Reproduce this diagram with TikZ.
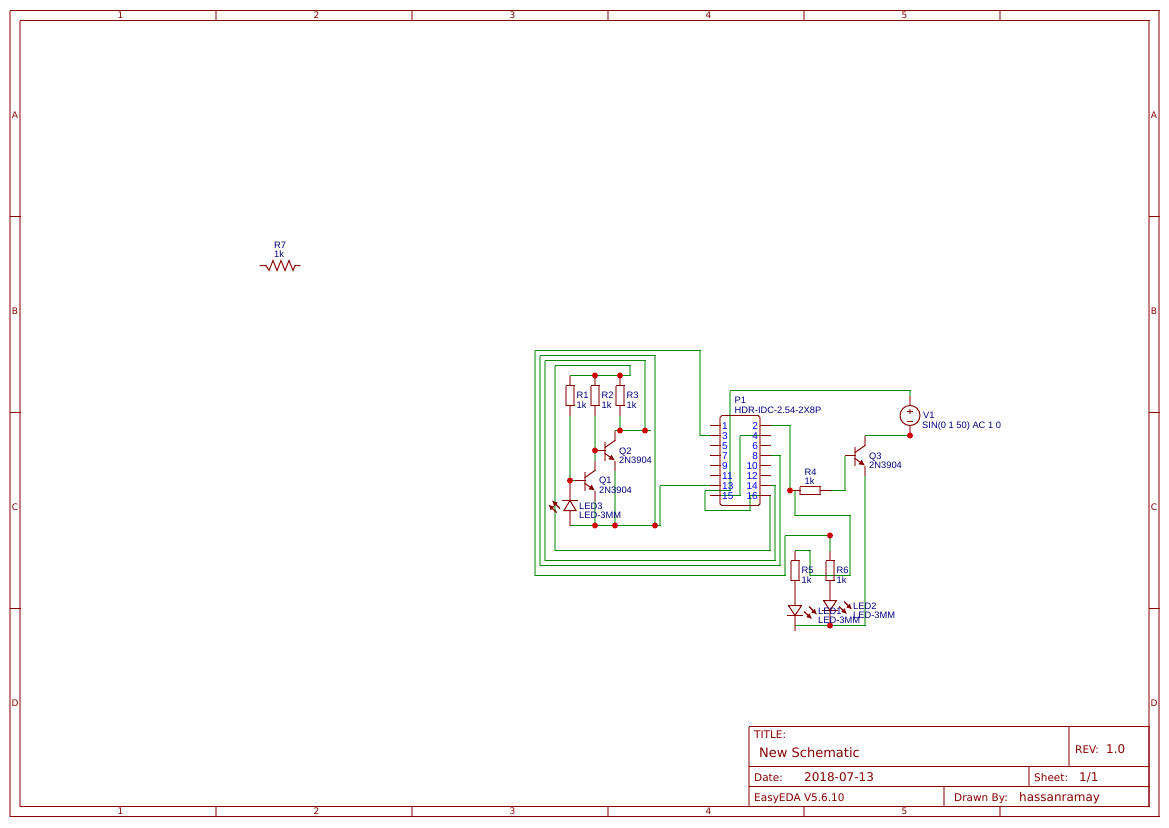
\documentclass[tikz,border=0pt]{standalone}
\usepackage{fontspec}
\setmainfont{DejaVu Sans}
\newfontfamily\lblfont{Liberation Sans}
\usetikzlibrary{arrows.meta,calc}
\definecolor{frm}{HTML}{880000}
\definecolor{wirec}{HTML}{008800}
\definecolor{dotc}{HTML}{CC0000}
\definecolor{lblc}{HTML}{000080}
\definecolor{pinc}{HTML}{0000FF}
\newcommand{\fs}[1]{\fontsize{#1pt}{#1pt}\selectfont}
% draws a polyline, giving vertical runs the soft two-pixel look of the reference
\newcommand{\segs}[2]{%
  \edef\seglist{#2}%
  \foreach \cur [remember=\cur as \prev (initially x), count=\segi] in \seglist {%
    \ifnum\segi>1
      \path let \p1=\prev,\p2=\cur,\n1={abs(\x1-\x2)} in \pgfextra{\xdef\segdx{\n1}};
      \ifdim\segdx<0.01pt
        \draw[#1,vseg] \prev -- \cur;
      \else
        \draw[#1] \prev -- \cur;
      \fi
    \fi
  }%
}
\tikzset{
  frameline/.style={draw=frm,line width=1pt,line cap=rect},
  wire/.style={draw=wirec,line width=1pt,line cap=rect},
  part/.style={draw=frm,line width=1pt,line cap=rect},
  diag/.style={draw=frm,line width=1pt,line cap=round},
  photon/.style={draw=frm,line width=1.2pt,-{Latex[length=5.5pt,width=5.5pt]}},
  vseg/.style={line width=2pt,opacity=0.5,line cap=butt},
  junction/.style={circle,fill=dotc,draw=none,minimum size=6pt,inner sep=0pt},
  lbl/.style={anchor=base west,inner sep=0pt,text=lblc,font=\lblfont\fs{9.33}},
  pinnum/.style={anchor=base,inner sep=0pt,text=pinc,font=\lblfont\fs{10}},
  frametxt/.style={anchor=center,inner sep=0pt,text=frm,font=\fs{9}},
  ttl/.style={anchor=base west,inner sep=0pt,text=frm,font=\fs{10.5}},
  ttlval/.style={anchor=base west,inner sep=0pt,text=frm,font=\fs{12}},
  vres/.pic={
    \segs{part}{(-4,-10),(4,-10),(4,10),(-4,10),(-4,-10)}
    \segs{part}{(0,-20),(0,-10)}
    \segs{part}{(0,10),(0,20)}
    \coordinate (-a) at (0,-20); \coordinate (-b) at (0,20);
  },
  hres/.pic={
    \segs{part}{(-10,-4),(10,-4),(10,4),(-10,4),(-10,-4)}
    \draw[part] (-20,0) -- (-10,0) (10,0) -- (20,0);
    \coordinate (-a) at (-20,0); \coordinate (-b) at (20,0);
  },
  npn/.pic={
    \segs{part}{(0,-9),(0,10)}
    \draw[part] (-10,0) -- (0,0);
    \draw[diag] (0,-3) -- (10,-10);
    \segs{part}{(10,-10),(10,-20)}
    \draw[diag,-{Latex[length=6pt,width=6pt]}] (0,3) -- (10,10);
    \segs{part}{(10,10),(10,20)}
    \coordinate (-B) at (-10,0); \coordinate (-C) at (10,-20); \coordinate (-E) at (10,20);
  },
  ledup/.pic={
    \draw[part] (-7.5,0) -- (7.5,0);
    \draw[diag] (0,0) -- (-6,10) -- (6,10) -- cycle;
    \segs{part}{(0,-20),(0,0)}
    \segs{part}{(0,10),(0,25)}
    \draw[photon] (-10,8) -- (-18,0);
    \draw[photon] (-13.5,12) -- (-21.5,4);
  },
  leddown/.pic={
    \draw[part] (-7.5,10) -- (7.5,10);
    \draw[diag] (0,10) -- (-6.5,0) -- (6.5,0) -- cycle;
    \segs{part}{(0,0),(0,-5)}
    \segs{part}{(0,10),(0,25)}
    \draw[photon] (14,1) -- (22,9);
    \draw[photon] (9,6) -- (17,13.5);
  },
}
\begin{document}
\begin{tikzpicture}[x=1pt,y=-1pt,shift={(0,0.5)}]
\useasboundingbox (0,-0.5) rectangle (1169,826.5);
\fill[white] (0,-0.5) rectangle (1169,826.5);

% sheet frame
\segs{frameline}{(10,10),(1159,10),(1159,816),(10,816),(10,10)}
\segs{frameline}{(20,20),(1149,20),(1149,806),(20,806),(20,20)}
\foreach \tx in {216,412,608,804,1000} {
  \segs{frameline}{(\tx,10),(\tx,20)}
  \segs{frameline}{(\tx,806),(\tx,816)}
}
\foreach \ty in {216,412,608} {
  \draw[frameline] (10,\ty) -- (20,\ty);
  \draw[frameline] (1149,\ty) -- (1159,\ty);
}
\foreach \n/\tx in {1/120.5,2/316.5,3/512.5,4/708.5,5/904.5} {
  \node[frametxt] (top\n) at (\tx,15) {\n};
  \node[frametxt] (bot\n) at (\tx,811) {\n};
}
\foreach \n/\ty in {A/115,B/311,C/507,D/703} {
  \node[frametxt] (left\n) at (15,\ty) {\n};
  \node[frametxt] (right\n) at (1154,\ty) {\n};
}

% title block
\segs{frameline}{(749,726),(1149,726),(1149,806),(749,806),(749,726)}
\draw[frameline] (749,766) -- (1149,766) (749,786) -- (1149,786);
\segs{frameline}{(1069,726),(1069,766)}
\segs{frameline}{(1029,766),(1029,786)}
\segs{frameline}{(944,786),(944,806)}
\node[ttl] (tTitle) at (754,738) {TITLE:};
\node[anchor=base west,inner sep=0pt,text=frm,font=\fs{13}] (tName) at (759,756.5) {New Schematic};
\node[ttl] (tRev) at (1075,752.5) {REV:};
\node[ttlval] (tRevV) at (1106,753) {1.0};
\node[ttl] (tDate) at (754,781) {Date:};
\node[ttlval] (tDateV) at (804,781) {2018-07-13};
\node[ttl] (tSheet) at (1034,781) {Sheet:};
\node[ttlval] (tSheetV) at (1079,781) {1/1};
\node[ttl] (tEda) at (754,801) {EasyEDA V5.6.10};
\node[ttl] (tBy) at (954,801) {Drawn By:};
\node[ttlval] (tByV) at (1019,801) {hassanramay};

% named connection points
\coordinate (J570a) at (570,480);
\coordinate (J595t) at (595,375);
\coordinate (J620t) at (620,375);
\coordinate (J595b) at (595,450);
\coordinate (J620m) at (620,430);
\coordinate (J645m) at (645,430);
\coordinate (J595e) at (595,525);
\coordinate (J615e) at (615,525);
\coordinate (J655e) at (655,525);
\coordinate (J790) at (790,490);
\coordinate (J910) at (910,435);
\coordinate (J830t) at (830,535);
\coordinate (J830b) at (830,625);
\foreach \n/\ty in {3/435,13/485,15/495} { \coordinate (PL\n) at (710,\ty); }
\foreach \n/\ty in {2/425,4/435,8/455,14/485,16/495} { \coordinate (PR\n) at (770,\ty); }
\coordinate (R1t) at (570,375); \coordinate (R1b) at (570,415);
\coordinate (R2t) at (595,375); \coordinate (R2b) at (595,415);
\coordinate (R3t) at (620,375); \coordinate (R3b) at (620,415);
\coordinate (Q1C) at (595,460); \coordinate (Q1E) at (595,500);
\coordinate (Q2C) at (615,430); \coordinate (Q2E) at (615,470);
\coordinate (Q3B) at (845,455); \coordinate (Q3C) at (865,435); \coordinate (Q3E) at (865,475);
\coordinate (LED3b) at (570,525);
\coordinate (R4a) at (790,490); \coordinate (R4b) at (830,490);
\coordinate (R5t) at (795,550); \coordinate (R6t) at (830,550);
\coordinate (LED1b) at (795,625);
\coordinate (V1a) at (910,395);

% wires
\segs{wire}{(PL3),(700,435),(700,350),(535,350),(535,575),(785,575),(785,535),(J830t)}
\segs{wire}{(J655e),(655,355),(540,355),(540,565),(780,565),(780,455),(PR8)}
\segs{wire}{(650,430),(J645m),(645,360),(545,360),(545,560),(775,560),(775,485),(PR14)}
\segs{wire}{(J620t),(630,375),(630,365),(555,365),(555,550),(770,550),(770,495),(PR16)}
\segs{wire}{(R1t),(J595t),(J620t)}
\segs{wire}{(R1b),(J570a),(585,480)}
\segs{wire}{(R2b),(Q1C)}
\segs{wire}{(J595b),(605,450)}
\segs{wire}{(R3b),(J620m)}
\segs{wire}{(Q2C),(J620m),(J645m)}
\segs{wire}{(Q2E),(J615e)}
\segs{wire}{(Q1E),(J595e)}
\segs{wire}{(LED3b),(J595e),(J615e),(J655e),(660,525),(660,485),(PL13)}
\segs{wire}{(PL15),(740,495),(740,435),(PR4)}
\segs{wire}{(PR16),(750,495),(750,510),(705,510),(705,490),(730,490),(730,390),(910,390),(V1a)}
\segs{wire}{(PR2),(790,425),(J790),(R4a)}
\segs{wire}{(795,490),(795,515),(850,515),(850,575),(810,575),(810,550),(R5t)}
\segs{wire}{(R4b),(845,490),(Q3B)}
\segs{wire}{(Q3C),(J910)}
\segs{wire}{(Q3E),(865,625),(J830b),(LED1b)}
\segs{wire}{(J830t),(R6t)}

% parts
\pic (R1) at (570,395) {vres};
\pic (R2) at (595,395) {vres};
\pic (R3) at (620,395) {vres};
\pic (R5) at (795,570) {vres};
\pic (R6) at (830,570) {vres};
\pic (R4) at (810,490) {hres};
\pic (Q1) at (585,480) {npn};
\pic (Q2) at (605,450) {npn};
\pic (Q3) at (855,455) {npn};
\pic (LED3) at (570,500) {ledup};
\pic (LED1) at (795,605) {leddown};
\segs{part}{(795,590),(795,600)}
\pic (LED2) at (830,600) {leddown};
\segs{part}{(830,590),(830,595)}

% R7
\coordinate (R7a) at (260,265); \coordinate (R7b) at (300,265);
\draw[diag] (R7a) -- (266,265) -- (269,270) -- (273,260) -- (277,270) -- (281,260) -- (285,270) -- (289,260) -- (293,270) -- (295,265) -- (R7b);

% V1
\node[circle,draw=frm,line width=1pt,minimum size=20pt,inner sep=0pt,fill=white] (V1) at (910,415) {};
\segs{part}{(V1a),(V1.north)}
\segs{part}{(V1.south),(J910)}
\draw[part] (907.5,411) -- (912.5,411);
\segs{part}{(910,408.5),(910,413.5)}
\draw[part] (907.5,421) -- (912.5,421);

% P1
\segs{part}{(720,417),(720,503.5)}
\segs{part}{(760,417),(760,503.5)}
\draw[part] (722,415) -- (758,415) (722,505) -- (758,505);
\draw[diag] (720,417) -- (722,415) (758,415) -- (760,417) (720,503.5) -- (722,505) (758,505) -- (760,503.5);
\foreach \n/\ty in {1/425,3/435,5/445,7/455,9/465,11/475,13/485,15/495} {
  \draw[part] (710,\ty) -- (720,\ty);
  \node[pinnum,anchor=base west] (pn\n) at (722,\ty+3.5) {\n};
}
\foreach \n/\ty in {2/425,4/435,6/445,8/455,10/465,12/475,14/485,16/495} {
  \draw[part] (760,\ty) -- (770,\ty);
  \node[pinnum,anchor=base east] (pn\n) at (758,\ty+3.5) {\n};
}

% junctions
\foreach \c in {J570a,J595t,J620t,J595b,J620m,J645m,J595e,J615e,J655e,J790,J910,J830t,J830b} {
  \node[junction] (dot\c) at (\c) {};
}

% labels
\node[lbl] (lR7) at (274,248) {R7};
\node[lbl] (lR7v) at (274,257) {1k};
\node[lbl] (lR1) at (576.5,398) {R1};
\node[lbl] (lR1v) at (576.5,408) {1k};
\node[lbl] (lR2) at (601.5,398) {R2};
\node[lbl] (lR2v) at (601.5,408) {1k};
\node[lbl] (lR3) at (626.5,398) {R3};
\node[lbl] (lR3v) at (626.5,408) {1k};
\node[lbl] (lQ2) at (619,453.5) {Q2};
\node[lbl] (lQ2v) at (619,462.5) {2N3904};
\node[lbl] (lQ1) at (599,483) {Q1};
\node[lbl] (lQ1v) at (599,492.5) {2N3904};
\node[lbl] (lL3) at (579,508.5) {LED3};
\node[lbl] (lL3v) at (579,517.5) {LED-3MM};
\node[lbl] (lP1) at (734.5,403) {P1};
\node[lbl] (lP1v) at (734.5,412.5) {HDR-IDC-2.54-2X8P};
\node[lbl] (lR4) at (804.5,474.5) {R4};
\node[lbl] (lR4v) at (804.5,483.5) {1k};
\node[lbl] (lQ3) at (869,458.5) {Q3};
\node[lbl] (lQ3v) at (869,467.5) {2N3904};
\node[lbl] (lV1) at (923,418) {V1};
\node[lbl] (lV1v) at (922,427.5) {SIN(0 1 50) AC 1 0};
\node[lbl] (lR5) at (801.5,573) {R5};
\node[lbl] (lR5v) at (801.5,583) {1k};
\node[lbl] (lR6) at (836.5,573) {R6};
\node[lbl] (lR6v) at (836.5,583) {1k};
\node[lbl] (lL1) at (818,613.5) {LED1};
\node[lbl] (lL1v) at (818,622.5) {LED-3MM};
\node[lbl] (lL2) at (853,608.5) {LED2};
\node[lbl] (lL2v) at (853,617.5) {LED-3MM};
\end{tikzpicture}
\end{document}
